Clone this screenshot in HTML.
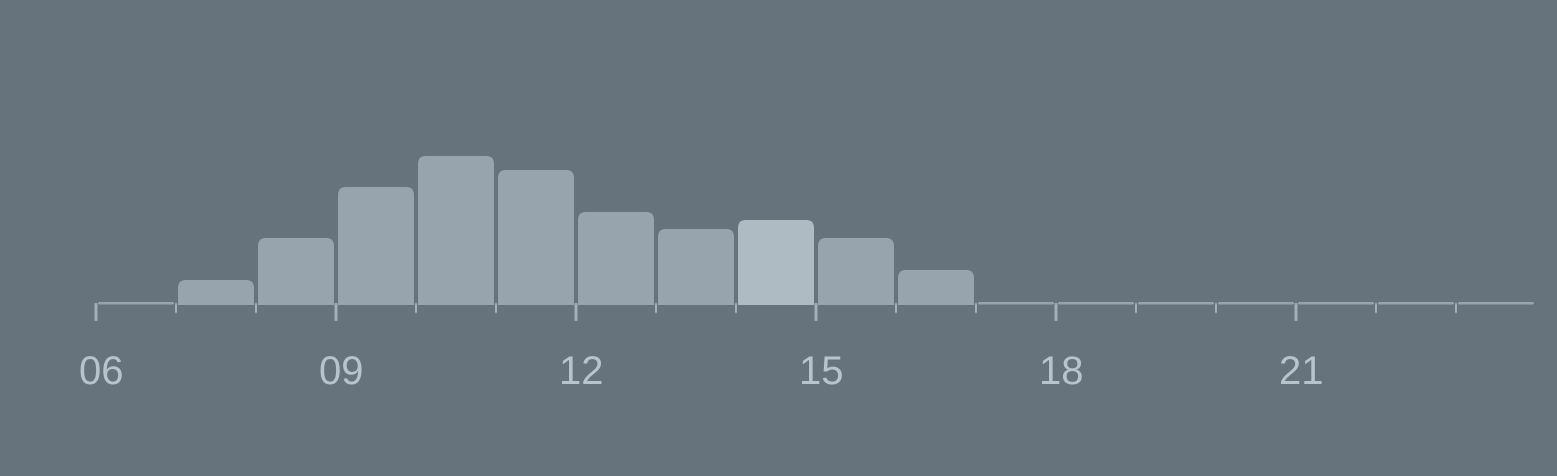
<!DOCTYPE html>
<html><head><meta charset="utf-8"><style>
html,body{margin:0;padding:0;background:#66737d;}
svg{display:block;}
text{font-family:"Liberation Sans",sans-serif;font-size:40px;fill:#b8c4cc;}
</style></head><body>
<svg id="chart" width="1557" height="476" viewBox="0 0 1557 476">
<rect x="0" y="0" width="1557" height="476" fill="#66737d"/>
<g id="bars"></g>
<g id="axis"></g>
</svg>
<script>
const hours = [6,7,8,9,10,11,12,13,14,15,16,17,18,19,20,21,22,23];
const values = [0,25,67,118,149,135,93,76,85,67,35,0,0,0,0,0,0,0];
const highlightHour = 14;
const tickLabels = ["06","09","12","15","18","21"];
const NS="http://www.w3.org/2000/svg";
const x0=96, slot=80, base=305;
const xs = h => x0 + (h-6)*slot;
const ys = v => base - v;
const bars=document.getElementById('bars'), axis=document.getElementById('axis');
function mk(tag,attrs,parent){const e=document.createElementNS(NS,tag);for(const k in attrs)e.setAttribute(k,attrs[k]);parent.appendChild(e);return e;}
hours.forEach((h,i)=>{
  const v=values[i];
  const x=xs(h)+2, w=slot-4;
  let r;
  if(v>0){
    const y=ys(v), hh=base-y;
    r=mk('path',{d:`M${x},${base}V${y+8}Q${x},${y} ${x+8},${y}H${x+w-8}Q${x+w},${y} ${x+w},${y+8}V${base}Z`,fill:h===highlightHour?'#aebbc3':'#97a4ad'},bars);
  } else {
    r=mk('rect',{x:x,y:base-3,width:w,height:2.5,rx:1.2,fill:'#97a4ad'},bars);
  }
  
  
});
for(let h=6;h<=23;h++){
  const major=(h%3===0);
  const t=mk('rect',{x:xs(h)-(major?1.5:1),y:base-2,width:major?3:2,height:major?18:10,rx:1,fill:'#a3afb7'},axis);
  
  
}
tickLabels.forEach((lab,i)=>{
  const h=6+i*3;
  const t=mk('text',{x:xs(h)-17,y:384},axis);
  t.textContent=lab;
  
  
});
</script>
</body></html>
